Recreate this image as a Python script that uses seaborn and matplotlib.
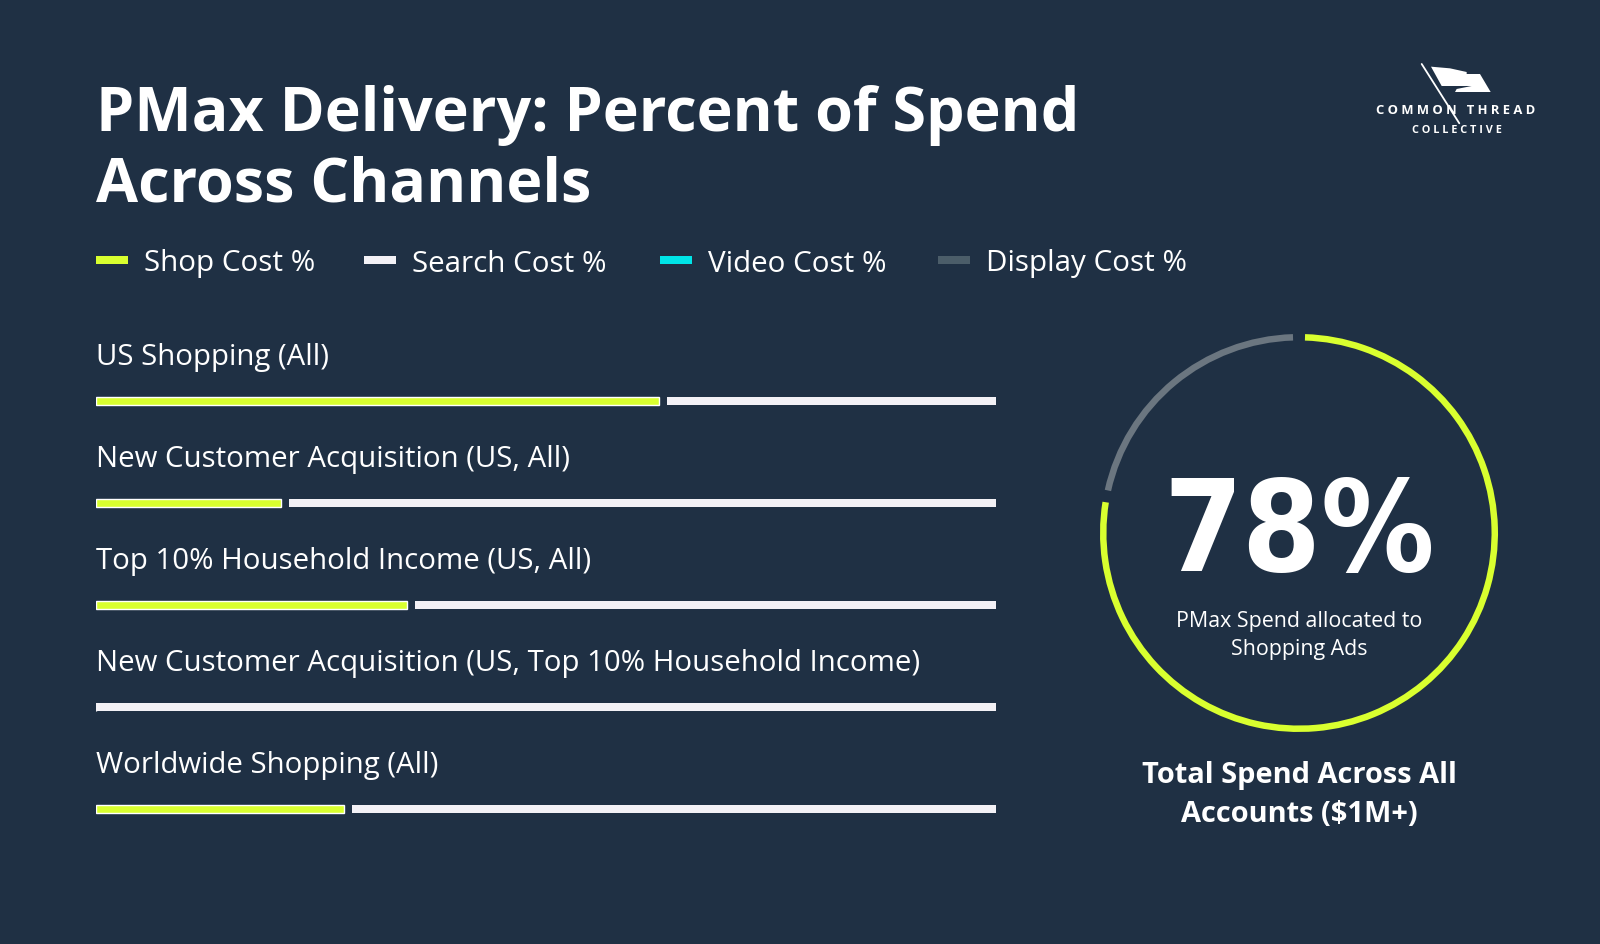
import numpy as np
import pandas as pd
import seaborn as sns
import matplotlib
matplotlib.use("Agg")
import matplotlib.pyplot as plt
from matplotlib.patches import Rectangle, Polygon
from matplotlib.lines import Line2D
from matplotlib.textpath import TextPath
from matplotlib.font_manager import FontProperties
from matplotlib import font_manager as fm

# ---------------- data ----------------
categories = [
    "US Shopping (All)",
    "New Customer Acquisition (US, All)",
    "Top 10% Household Income (US, All)",
    "New Customer Acquisition (US, Top 10% Household Income)",
    "Worldwide Shopping (All)",
]
shop_pct = [63, 21, 35, 0, 28]
search_pct = [37, 79, 65, 100, 72]
legend_labels = ["Shop Cost %", "Search Cost %", "Video Cost %", "Display Cost %"]
donut_labels = ["Shopping", "Other"]
donut_values = [78, 22]
title_lines = ["PMax Delivery: Percent of Spend", "Across Channels"]
big_number = "78%"
donut_caption = ["PMax Spend allocated to", "Shopping Ads"]
donut_footer = ["Total Spend Across All", "Accounts ($1M+)"]

# ---------------- style ----------------
W, H = 1600, 944
BG = "#1F3044"
GREEN = "#D9FF2F"
WHITE = "#F3F1F6"
CYAN = "#00E4E8"
DGRAY = "#4B5D69"
RGRAY = "#6B7680"
legend_colors = [GREEN, WHITE, CYAN, DGRAY]

sns.set_theme(style="white")
plt.rcParams["font.family"] = ["Open Sans", "DejaVu Sans"]
plt.rcParams["text.color"] = "white"


# pick the narrowest bold face available for the big number
def _is_bold(w):
    if isinstance(w, (int, float)):
        return w >= 600
    return str(w).lower() in ("bold", "heavy", "black", "extra bold", "demibold", "semibold")


_stretch_rank = {"ultra-condensed": 1, "extra-condensed": 2, "condensed": 3,
                 "semi-condensed": 4}
cands = []
for f in fm.fontManager.ttflist:
    st = f.stretch
    rank = None
    if isinstance(st, (int, float)) and st < 500:
        rank = st / 100.0
    elif isinstance(st, str) and st in _stretch_rank:
        rank = _stretch_rank[st]
    elif "Narrow" in f.name or "Condensed" in f.name:
        rank = 3
    if rank is not None and _is_bold(f.weight):
        cands.append((rank, f.fname))
if cands:
    cands.sort()
    big_prop = FontProperties(fname=cands[0][1])
else:
    big_prop = FontProperties(family="DejaVu Sans", weight="bold")

fig = plt.figure(figsize=(W / 100, H / 100), dpi=100, facecolor=BG)
renderer = fig.canvas.get_renderer()


def fx(x):
    return x / W


def fy(y):
    return 1 - y / H


def fit(t, target):
    for _ in range(3):
        w = t.get_window_extent(renderer).width
        t.set_fontsize(t.get_fontsize() * target / w)
    return t.get_fontsize()


# ---------------- title ----------------
t1 = fig.text(fx(96), fy(130.6), title_lines[0], fontsize=48, weight="bold",
              color="white", va="baseline", ha="left")
fs_title = fit(t1, 983)
fig.text(fx(96), fy(202), title_lines[1], fontsize=fs_title, weight="bold",
         color="white", va="baseline", ha="left")

# ---------------- legend ----------------
mark_x = [96, 364, 660, 938]
text_x = [144, 412, 708, 986]
lt = fig.text(fx(text_x[0]), fy(271.5), legend_labels[0], fontsize=18,
              color="white", va="baseline", ha="left")
fs_leg = fit(lt, 171)
for i, (lab, col) in enumerate(zip(legend_labels, legend_colors)):
    fig.add_artist(Rectangle((fx(mark_x[i]), fy(263.5)), 32 / W, 7 / H,
                             transform=fig.transFigure, color=col, lw=0))
    if i > 0:
        fig.text(fx(text_x[i]), fy(271.5), lab, fontsize=fs_leg,
                 color="white", va="baseline", ha="left")

# ---------------- bars ----------------
ax = fig.add_axes([fx(96), fy(860), 900 / W, 612 / H])
ax.set_facecolor("none")
df = pd.DataFrame({"category": categories, "shop": shop_pct, "search": search_pct})
gap = 8 / 9.0  # visual separation between segments, in % units
sns.barplot(data=df, y="category", x="shop", orient="h", color=GREEN,
            saturation=1, width=0.07, ax=ax)
for p in ax.patches:
    if p.get_width() > 0:
        p.set_width(p.get_width() - gap / 2)
lefts = [s + gap / 2 if s > 0 else 0 for s in shop_pct]
widths = [v - gap / 2 if s > 0 else v for s, v in zip(shop_pct, search_pct)]
ax.barh(range(len(categories)), widths, left=lefts, height=0.07, color=WHITE, lw=0)
ax.set_xlim(0, 100)
ax.set_ylim(4.5, -1.5)
ax.axis("off")

lab_texts = []
for i, cat in enumerate(categories):
    lab_texts.append(ax.text(0, i - 0.353, cat, fontsize=20, color="white",
                             va="baseline", ha="left"))
fs_lab = fit(lab_texts[3], 824)
for t in lab_texts:
    t.set_fontsize(fs_lab)

# ---------------- donut ----------------
cx, cy, R = 1299, 533, 210
dax = fig.add_axes([fx(cx - R), fy(cy + R), 2 * R / W, 2 * R / H])
dax.set_facecolor("none")
wedges, _ = dax.pie(donut_values, colors=[GREEN, RGRAY], startangle=90,
                    counterclock=False, radius=199 / R,
                    wedgeprops=dict(width=6.5 / R, linewidth=0))
for w in wedges:
    w.set_theta1(w.theta1 + 1.75)
    w.set_theta2(w.theta2 - 1.75)
dax.set_xlim(-1, 1)
dax.set_ylim(-1, 1)
dax.set_aspect("equal")
dax.axis("off")

# big number: size chosen so cap height ~ 92 px, but width limited
ext = TextPath((0, 0), "7", size=100, prop=big_prop).get_extents()
cap_per_pt = ext.height / 100.0 * (100 / 72.0)  # px of cap height per pt
fs_big = 92 / cap_per_pt
wext = TextPath((0, 0), big_number, size=100, prop=big_prop).get_extents()
w_px = wext.width / 100.0 * (100 / 72.0) * fs_big
if w_px > 262:
    fs_big *= 262 / w_px
fig.text(fx(cx), fy(571.4), big_number, fontproperties=big_prop, fontsize=fs_big,
         color="white", va="baseline", ha="center")

c1 = fig.text(fx(cx), fy(626.5), donut_caption[0], fontsize=14, color="white",
              va="baseline", ha="center")
fs_cap = fit(c1, 246)
fig.text(fx(cx), fy(655), donut_caption[1], fontsize=fs_cap, color="white",
         va="baseline", ha="center")

f1 = fig.text(fx(cx), fy(782.6), donut_footer[0], fontsize=22, weight="bold",
              color="white", va="baseline", ha="center")
fs_f = fit(f1, 316)
fig.text(fx(cx), fy(822.4), donut_footer[1], fontsize=fs_f, weight="bold",
         color="white", va="baseline", ha="center")

# ---------------- logo ----------------
zpts = [(213, 50), (270, 55), (320, 66), (320, 72), (360, 72), (392, 126),
        (285, 126), (290, 117), (335, 108), (245, 108)]
pts = [(fx(1360 + zx / 3), fy(50 + zy / 3)) for zx, zy in zpts]
fig.add_artist(Polygon(pts, closed=True, transform=fig.transFigure,
                       color="white", lw=0))
fig.add_artist(Line2D([fx(1421.7), fx(1459.3)], [fy(64), fy(123.3)],
                      transform=fig.transFigure, color="white", lw=1.3))
l1 = fig.text(fx(1456), fy(114), "C O M M O N   T H R E A D", fontsize=8,
              weight="bold", color="white", va="baseline", ha="center")
fit(l1, 160)
l2 = fig.text(fx(1457), fy(133), "C O L L E C T I V E", fontsize=6,
              weight="bold", color="white", va="baseline", ha="center")
fit(l2, 90)

fig.savefig("out.png", dpi=100, facecolor=BG)
